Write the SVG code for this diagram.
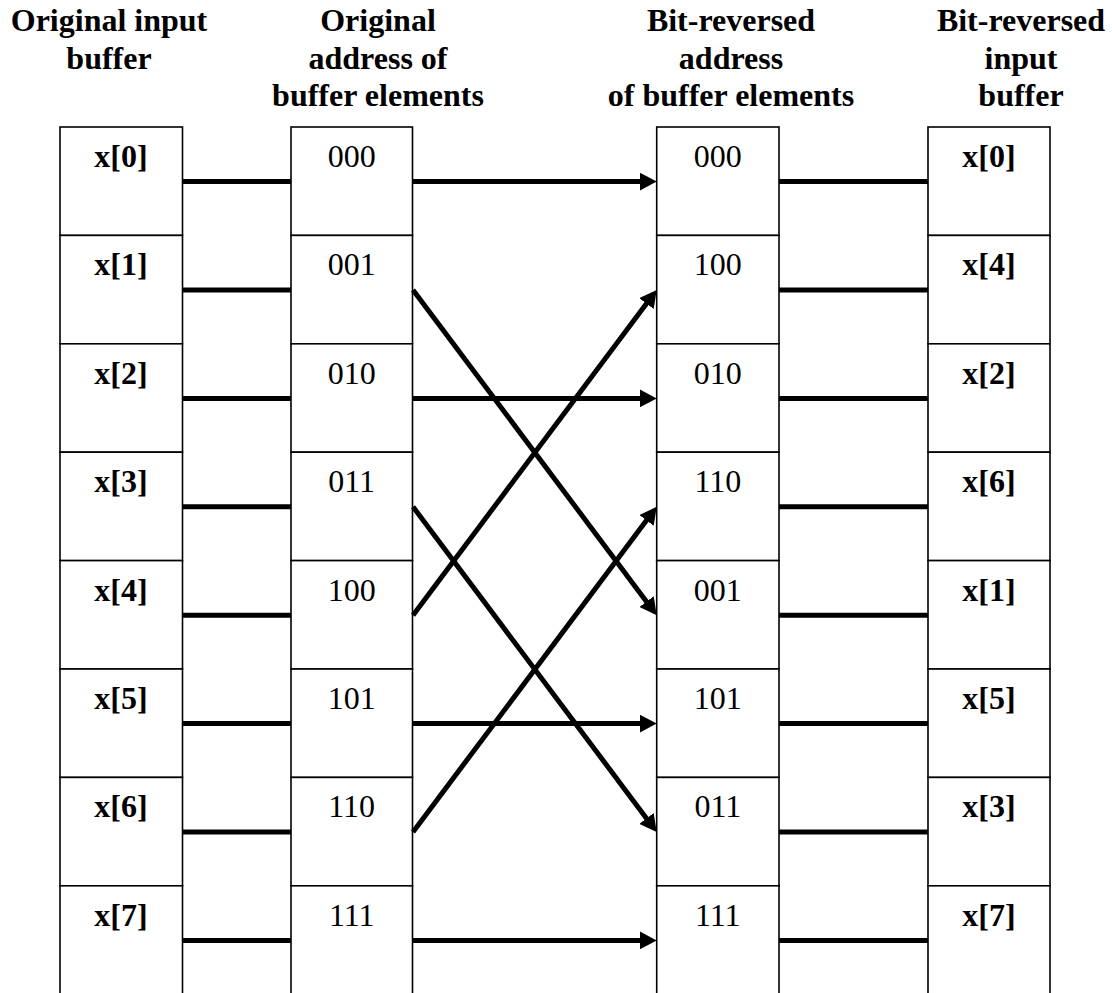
<svg xmlns="http://www.w3.org/2000/svg" width="1112" height="993" viewBox="0 0 1112 993">
<style>
  .cell{fill:#fff;stroke:#000;stroke-width:1.6}
  .t{font-family:"Liberation Serif","Times New Roman",serif;font-size:32px;fill:#000;text-anchor:middle}
  .b{font-weight:bold}
  .ln{stroke:#000;stroke-width:5;fill:none}
  .ar{stroke:#000;stroke-width:5;fill:none;marker-end:url(#ah)}
</style>
<defs>
  <marker id="ah" markerUnits="userSpaceOnUse" viewBox="0 0 17 18" markerWidth="17" markerHeight="18" refX="2" refY="9" orient="auto">
    <path d="M0,0 L17,9 L0,18 Z" fill="#000"/>
  </marker>
</defs>
<rect width="1112" height="993" fill="#fff"/>
<g id="titles">
  <text class="t b" x="109" y="31">Original input</text>
  <text class="t b" x="109" y="68.5">buffer</text>
  <text class="t b" x="378" y="31">Original</text>
  <text class="t b" x="378" y="68.5">address of</text>
  <text class="t b" x="378" y="106">buffer elements</text>
  <text class="t b" x="731" y="31">Bit-reversed</text>
  <text class="t b" x="731" y="68.5">address</text>
  <text class="t b" x="731" y="106">of buffer elements</text>
  <text class="t b" x="1021" y="31">Bit-reversed</text>
  <text class="t b" x="1021" y="68.5">input</text>
  <text class="t b" x="1021" y="106">buffer</text>
</g>
<g id="col1">
  <g id="in0"><rect class="cell" x="60" y="127" width="122.5" height="108.4"/><text class="t b" x="121" y="167">x[0]</text></g>
  <g id="in1"><rect class="cell" x="60" y="235.4" width="122.5" height="108.4"/><text class="t b" x="121" y="275.4">x[1]</text></g>
  <g id="in2"><rect class="cell" x="60" y="343.8" width="122.5" height="108.4"/><text class="t b" x="121" y="383.8">x[2]</text></g>
  <g id="in3"><rect class="cell" x="60" y="452.2" width="122.5" height="108.4"/><text class="t b" x="121" y="492.2">x[3]</text></g>
  <g id="in4"><rect class="cell" x="60" y="560.6" width="122.5" height="108.4"/><text class="t b" x="121" y="600.6">x[4]</text></g>
  <g id="in5"><rect class="cell" x="60" y="669" width="122.5" height="108.4"/><text class="t b" x="121" y="709">x[5]</text></g>
  <g id="in6"><rect class="cell" x="60" y="777.4" width="122.5" height="108.4"/><text class="t b" x="121" y="817.4">x[6]</text></g>
  <g id="in7"><rect class="cell" x="60" y="885.8" width="122.5" height="108.4"/><text class="t b" x="121" y="925.8">x[7]</text></g>
</g>
<g id="col2">
  <g id="addr0"><rect class="cell" x="291" y="127" width="121.5" height="108.4"/><text class="t" x="351.7" y="167">000</text></g>
  <g id="addr1"><rect class="cell" x="291" y="235.4" width="121.5" height="108.4"/><text class="t" x="351.7" y="275.4">001</text></g>
  <g id="addr2"><rect class="cell" x="291" y="343.8" width="121.5" height="108.4"/><text class="t" x="351.7" y="383.8">010</text></g>
  <g id="addr3"><rect class="cell" x="291" y="452.2" width="121.5" height="108.4"/><text class="t" x="351.7" y="492.2">011</text></g>
  <g id="addr4"><rect class="cell" x="291" y="560.6" width="121.5" height="108.4"/><text class="t" x="351.7" y="600.6">100</text></g>
  <g id="addr5"><rect class="cell" x="291" y="669" width="121.5" height="108.4"/><text class="t" x="351.7" y="709">101</text></g>
  <g id="addr6"><rect class="cell" x="291" y="777.4" width="121.5" height="108.4"/><text class="t" x="351.7" y="817.4">110</text></g>
  <g id="addr7"><rect class="cell" x="291" y="885.8" width="121.5" height="108.4"/><text class="t" x="351.7" y="925.8">111</text></g>
</g>
<g id="col3">
  <g id="rev0"><rect class="cell" x="656.7" y="127" width="122.3" height="108.4"/><text class="t" x="717.8" y="167">000</text></g>
  <g id="rev1"><rect class="cell" x="656.7" y="235.4" width="122.3" height="108.4"/><text class="t" x="717.8" y="275.4">100</text></g>
  <g id="rev2"><rect class="cell" x="656.7" y="343.8" width="122.3" height="108.4"/><text class="t" x="717.8" y="383.8">010</text></g>
  <g id="rev3"><rect class="cell" x="656.7" y="452.2" width="122.3" height="108.4"/><text class="t" x="717.8" y="492.2">110</text></g>
  <g id="rev4"><rect class="cell" x="656.7" y="560.6" width="122.3" height="108.4"/><text class="t" x="717.8" y="600.6">001</text></g>
  <g id="rev5"><rect class="cell" x="656.7" y="669" width="122.3" height="108.4"/><text class="t" x="717.8" y="709">101</text></g>
  <g id="rev6"><rect class="cell" x="656.7" y="777.4" width="122.3" height="108.4"/><text class="t" x="717.8" y="817.4">011</text></g>
  <g id="rev7"><rect class="cell" x="656.7" y="885.8" width="122.3" height="108.4"/><text class="t" x="717.8" y="925.8">111</text></g>
</g>
<g id="col4">
  <g id="out0"><rect class="cell" x="928" y="127" width="122" height="108.4"/><text class="t b" x="989" y="167">x[0]</text></g>
  <g id="out1"><rect class="cell" x="928" y="235.4" width="122" height="108.4"/><text class="t b" x="989" y="275.4">x[4]</text></g>
  <g id="out2"><rect class="cell" x="928" y="343.8" width="122" height="108.4"/><text class="t b" x="989" y="383.8">x[2]</text></g>
  <g id="out3"><rect class="cell" x="928" y="452.2" width="122" height="108.4"/><text class="t b" x="989" y="492.2">x[6]</text></g>
  <g id="out4"><rect class="cell" x="928" y="560.6" width="122" height="108.4"/><text class="t b" x="989" y="600.6">x[1]</text></g>
  <g id="out5"><rect class="cell" x="928" y="669" width="122" height="108.4"/><text class="t b" x="989" y="709">x[5]</text></g>
  <g id="out6"><rect class="cell" x="928" y="777.4" width="122" height="108.4"/><text class="t b" x="989" y="817.4">x[3]</text></g>
  <g id="out7"><rect class="cell" x="928" y="885.8" width="122" height="108.4"/><text class="t b" x="989" y="925.8">x[7]</text></g>
</g>
<g id="connectors">
  <line class="ln" x1="182.5" y1="181.6" x2="291" y2="181.6"/>
  <line class="ln" x1="182.5" y1="290" x2="291" y2="290"/>
  <line class="ln" x1="182.5" y1="398.4" x2="291" y2="398.4"/>
  <line class="ln" x1="182.5" y1="506.8" x2="291" y2="506.8"/>
  <line class="ln" x1="182.5" y1="615.2" x2="291" y2="615.2"/>
  <line class="ln" x1="182.5" y1="723.6" x2="291" y2="723.6"/>
  <line class="ln" x1="182.5" y1="832" x2="291" y2="832"/>
  <line class="ln" x1="182.5" y1="940.4" x2="291" y2="940.4"/>

  <line class="ln" x1="779" y1="181.6" x2="928" y2="181.6"/>
  <line class="ln" x1="779" y1="290" x2="928" y2="290"/>
  <line class="ln" x1="779" y1="398.4" x2="928" y2="398.4"/>
  <line class="ln" x1="779" y1="506.8" x2="928" y2="506.8"/>
  <line class="ln" x1="779" y1="615.2" x2="928" y2="615.2"/>
  <line class="ln" x1="779" y1="723.6" x2="928" y2="723.6"/>
  <line class="ln" x1="779" y1="832" x2="928" y2="832"/>
  <line class="ln" x1="779" y1="940.4" x2="928" y2="940.4"/>

  <line class="ar" x1="412.5" y1="181.6" x2="641.7" y2="181.6"/>
  <line class="ar" x1="412.5" y1="398.4" x2="641.7" y2="398.4"/>
  <line class="ar" x1="412.5" y1="723.6" x2="641.7" y2="723.6"/>
  <line class="ar" x1="412.5" y1="940.4" x2="641.7" y2="940.4"/>

  <line class="ar" x1="413" y1="290" x2="647.7" y2="603.2"/>
  <line class="ar" x1="413" y1="506.8" x2="647.7" y2="820"/>
  <line class="ar" x1="413" y1="615.2" x2="647.7" y2="302"/>
  <line class="ar" x1="413" y1="832" x2="647.7" y2="518.8"/>
</g>
</svg>
